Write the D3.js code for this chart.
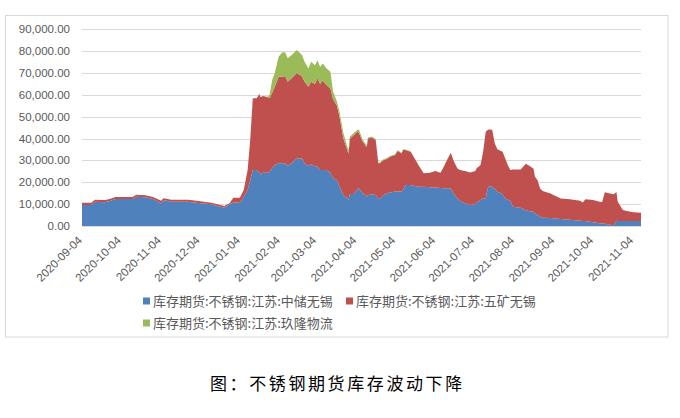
<!DOCTYPE html>
<html><head><meta charset="utf-8">
<script src="https://cdn.jsdelivr.net/npm/d3@7/dist/d3.min.js"></script>
<style>
html,body{margin:0;padding:0;background:#fff;}
svg{display:block;}
</style></head>
<body>
<svg id="chart" width="680" height="418"></svg>
<script>
const dates = ["2020-09-04","2020-09-11","2020-09-14","2020-09-22","2020-09-26","2020-09-30","2020-10-13","2020-10-16","2020-10-23","2020-10-29",
"2020-11-03","2020-11-04","2020-11-06","2020-11-12","2020-11-25","2020-12-03","2020-12-13","2020-12-20","2020-12-23","2020-12-27",
"2020-12-30","2021-01-04","2021-01-07","2021-01-10","2021-01-12","2021-01-14","2021-01-17","2021-01-19","2021-01-20","2021-01-22",
"2021-01-25","2021-01-27","2021-01-29","2021-01-31","2021-02-03","2021-02-06","2021-02-08","2021-02-10","2021-02-13","2021-02-17",
"2021-02-21","2021-02-23","2021-02-26","2021-02-28","2021-03-03","2021-03-05","2021-03-07","2021-03-09","2021-03-12","2021-03-15",
"2021-03-17","2021-03-20","2021-03-22","2021-03-25","2021-03-28","2021-03-29","2021-03-30","2021-04-02","2021-04-05","2021-04-06",
"2021-04-09","2021-04-11","2021-04-12","2021-04-13","2021-04-16","2021-04-19","2021-04-21","2021-04-22","2021-04-25","2021-04-28",
"2021-04-30","2021-05-04","2021-05-06","2021-05-09","2021-05-10","2021-05-12","2021-05-16","2021-05-19","2021-05-22","2021-05-26",
"2021-05-31","2021-06-04","2021-06-08","2021-06-10","2021-06-13","2021-06-16","2021-06-18","2021-06-21","2021-06-23","2021-06-27",
"2021-07-01","2021-07-05","2021-07-06","2021-07-09","2021-07-11","2021-07-13","2021-07-15","2021-07-18","2021-07-20","2021-07-22",
"2021-07-26","2021-07-28","2021-07-30","2021-08-01","2021-08-03","2021-08-09","2021-08-13","2021-08-16","2021-08-19","2021-08-20",
"2021-08-22","2021-08-24","2021-08-26","2021-09-01","2021-09-09","2021-09-16","2021-09-24","2021-09-26","2021-09-28","2021-10-04",
"2021-10-09","2021-10-11","2021-10-13","2021-10-17","2021-10-20","2021-10-22","2021-10-23","2021-10-27","2021-10-30","2021-11-04",
"2021-11-10"];

// 库存期货:不锈钢:江苏:中储无锡
const zhongchu = [9600,9600,11100,10900,11600,12350,12350,13400,13100,12350,
10800,10350,11900,11100,11100,10500,9900,8850,8400,9900,
10700,10600,13400,16470,21000,25600,25600,24500,23300,24800,
24300,24800,26400,27900,28700,28700,28700,27600,28700,30900,
30900,28700,27500,28300,27400,27100,25600,25600,25600,24100,
22000,21000,18000,14200,12700,12000,14600,14600,16800,17300,
15000,14200,13500,14200,14400,14200,12700,12200,14200,15000,
15300,15800,15800,15800,16500,18800,18800,18300,18000,18000,
17700,17600,17400,17300,17300,17200,15000,12700,11600,10400,
9600,10100,10600,11900,12700,12700,18300,18000,17000,15700,
14600,12600,12000,11600,8800,8400,7200,6700,6500,5800,
5000,4270,3800,3700,3200,2900,2440,2300,2300,1700,
1220,1100,1000,600,300,2440,2300,2300,2300,2300,
2300];

// 库存期货:不锈钢:江苏:五矿无锡
const wukuang = [1050,1050,900,1000,900,950,950,900,1000,950,
1100,1150,800,900,900,900,750,750,750,500,
2250,2350,3070,9130,18300,32800,32800,35900,35700,34700,
34700,33600,34600,35800,39600,39600,39900,38400,38900,39100,
37600,37300,36200,37700,37600,40500,39400,41000,38800,38800,
36000,34000,32000,25800,22100,21200,25400,26900,26400,25200,
23600,22800,22500,25800,26100,25100,16000,16500,15900,15800,
16400,16700,18600,17400,18300,16000,15200,12700,9900,6100,
6700,7600,7000,9100,12800,16300,15100,13700,14000,14800,
14900,15100,15800,16000,21300,30400,25900,26000,20800,19400,
19400,18400,15900,14000,17100,17500,21300,20800,19700,16800,
16000,12900,12200,11200,9400,9300,9160,8400,9900,10200,
9880,9900,14400,14300,14200,13160,8800,5000,4600,4000,
3800];

// 库存期货:不锈钢:江苏:玖隆物流
const jiulong = [0,0,0,0,0,0,0,0,0,0,
0,0,0,0,0,0,0,0,0,0,
0,0,0,0,0,0,0,0,0,0,
0,1600,5800,6300,9200,11200,10900,10700,10600,10500,
9700,9100,8400,9100,8600,8200,7800,7800,7700,7700,
3500,2000,2300,2500,1600,1600,800,1000,800,1500,
900,800,800,500,500,500,300,300,400,400,
300,300,300,300,200,200,200,0,0,0,
0,0,0,0,0,0,0,0,0,0,
0,0,0,0,0,0,0,0,0,0,
0,0,0,0,0,0,0,0,0,0,
0,0,0,0,0,0,0,0,0,0,
0,0,0,0,0,0,0,0,0,0,
0];

const seriesNames = ["库存期货:不锈钢:江苏:中储无锡","库存期货:不锈钢:江苏:五矿无锡","库存期货:不锈钢:江苏:玖隆物流"];
const seriesColors = ["#4F81BD","#C0504D","#9BBB59"];
const yTicks = [0,10000,20000,30000,40000,50000,60000,70000,80000,90000];
const xTickLabels = ["2020-09-04","2020-10-04","2020-11-04","2020-12-04","2021-01-04","2021-02-04","2021-03-04","2021-04-04","2021-05-04","2021-06-04","2021-07-04","2021-08-04","2021-09-04","2021-10-04","2021-11-04"];
const axisStart = "2020-09-04", axisEnd = "2021-11-10";
const title = "图：不锈钢期货库存波动下降";

(function(){
const parse = d3.utcParse("%Y-%m-%d");
const keys = ["a","b","c"];
const rows = dates.map((d,i)=>({date:parse(d), a:zhongchu[i], b:wukuang[i], c:jiulong[i]}));

const svg = d3.select("#chart");
const pLeft = 82, pRight = 641, pTop = 29.3, pBottom = 226;

svg.append("rect").attr("x",5.5).attr("y",15.5).attr("width",662.5).attr("height",321.5)
  .attr("fill","#fff").attr("stroke","#D9D9D9").attr("stroke-width",1);

const x = d3.scaleUtc().domain([parse(axisStart), parse(axisEnd)]).range([pLeft,pRight]);
const y = d3.scaleLinear().domain([0,90000]).range([pBottom,pTop]);

svg.append("g").selectAll("line").data(yTicks.filter(v=>v>0)).join("line")
  .attr("x1",pLeft).attr("x2",pRight)
  .attr("y1",d=>Math.round(y(d))+0.5).attr("y2",d=>Math.round(y(d))+0.5)
  .attr("stroke","#D9D9D9").attr("stroke-width",1);

const stacked = d3.stack().keys(keys)(rows);
const area = d3.area().x(d=>x(d.data.date)).y0(d=>y(d[0])).y1(d=>y(d[1]));
svg.append("g").selectAll("path").data(stacked).join("path")
  .attr("d",area).attr("fill",(d,i)=>seriesColors[i]);

svg.append("line").attr("x1",pLeft).attr("x2",pRight).attr("y1",pBottom+0.5).attr("y2",pBottom+0.5)
  .attr("stroke","#D9D9D9").attr("stroke-width",1);

const fmt = d3.format(",.2f");
svg.append("g").selectAll("text").data(yTicks).join("text")
  .attr("x",70).attr("y",d=>y(d)).attr("dy","0.35em")
  .attr("text-anchor","end")
  .attr("font-family","'Liberation Sans', Arial, sans-serif")
  .attr("font-size",11.5).attr("fill","#595959")
  .text(d=>fmt(d));

svg.append("g").selectAll("text").data(xTickLabels).join("text")
  .attr("transform",d=>`translate(${x(parse(d))-2},238) rotate(-45)`)
  .attr("dy","0.35em")
  .attr("text-anchor","end")
  .attr("font-family","'Liberation Sans', Arial, sans-serif")
  .attr("font-size",11.5).attr("fill","#595959")
  .text(d=>d);

const legendPos = [[143,301],[346,301],[143,323]];
const lg = svg.append("g").selectAll("g").data(seriesNames).join("g")
  .attr("transform",(d,i)=>`translate(${legendPos[i][0]},${legendPos[i][1]})`);
lg.append("rect").attr("x",0).attr("y",-3.5).attr("width",7).attr("height",7)
  .attr("fill",(d,i)=>seriesColors[i]);
lg.append("text").attr("x",10).attr("y",0).attr("dy","0.36em")
  .attr("font-family","'Noto Sans CJK SC', sans-serif")
  .attr("font-size",13).attr("fill","#595959")
  .text(d=>d);

svg.append("text").attr("x",210).attr("y",390)
  .attr("font-family","'Noto Sans CJK SC', sans-serif")
  .attr("font-size",17).attr("letter-spacing",2.6).attr("fill","#000")
  .text(title);
})();
</script>
</body></html>
